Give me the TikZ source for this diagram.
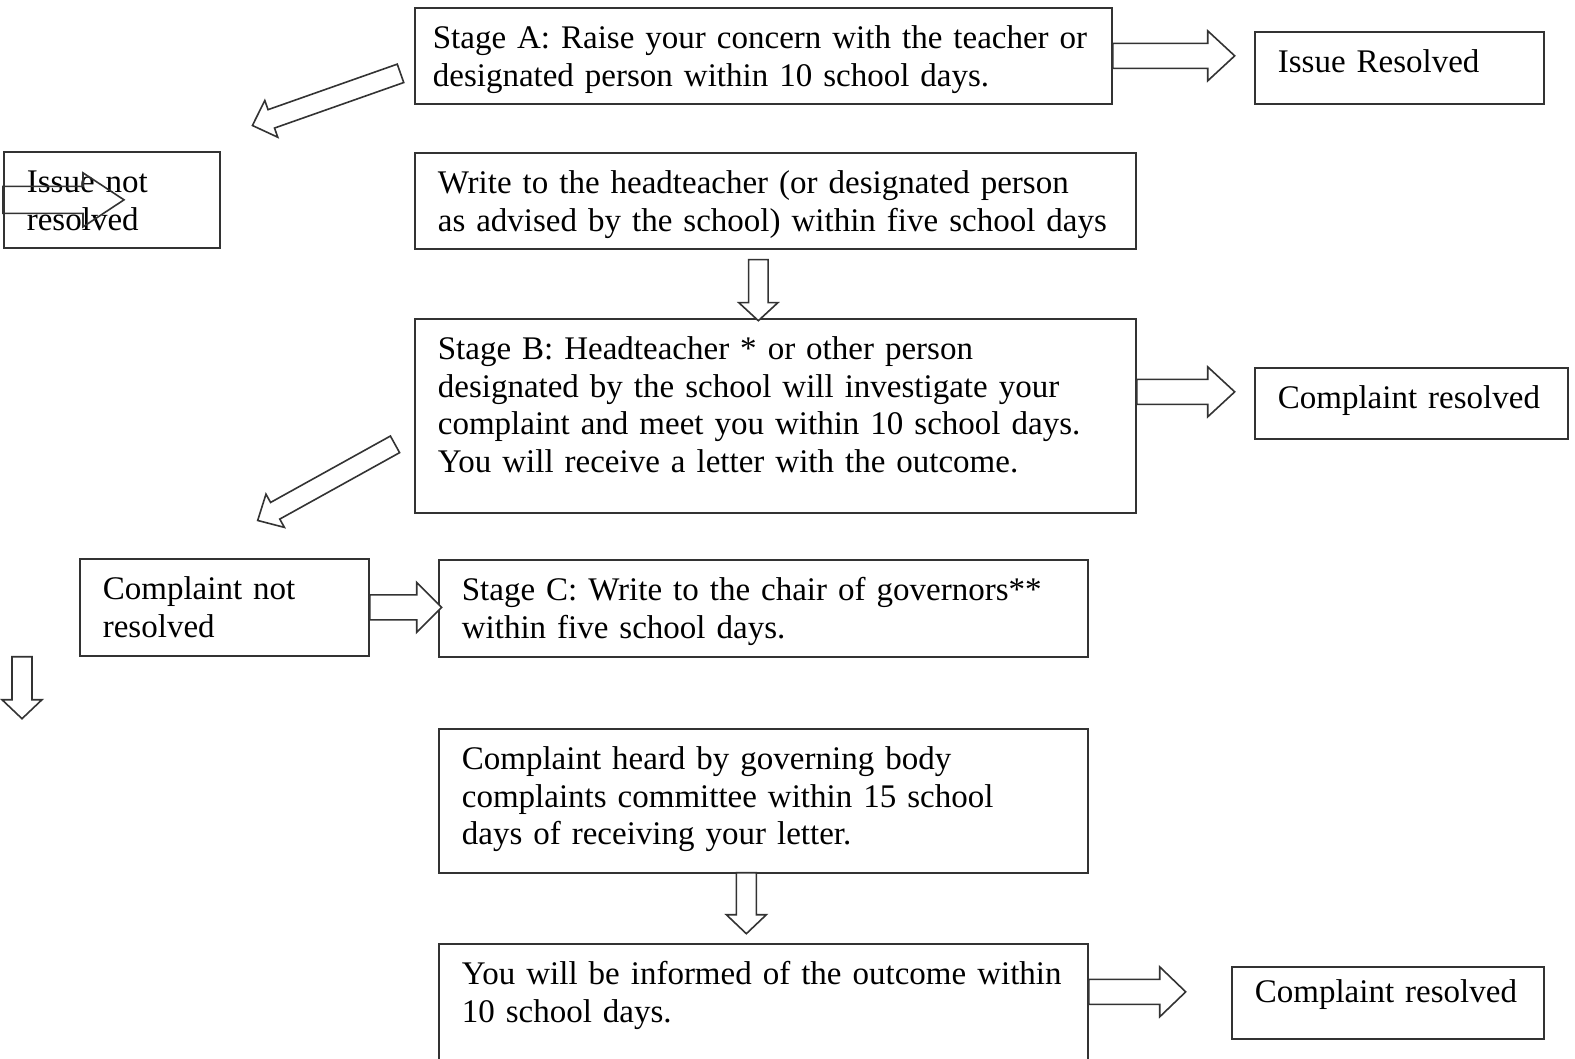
\documentclass[tikz,border=0pt]{standalone}
\usepackage{fontspec}
\setmainfont{Liberation Serif}
\usetikzlibrary{calc}

\tikzset{
  box/.style={draw=black!80, line width=1.7pt, anchor=north west, align=left,
    inner xsep=23pt, inner ysep=0pt, text height=41pt},
  fatarrow/.style={draw=black!80, line width=1.6pt, fill=white, line join=miter}
}

% hollow block arrow: [options] tail, angle, length, head half width, head length
\newcommand{\blockarrow}[6][]{%
  \draw[fatarrow, #1, shift={(#2)}, rotate=#3]
    (0,-#5/2) -- (#4-#6,-#5/2) -- (#4-#6,-#5) -- (#4,0)
    -- (#4-#6,#5) -- (#4-#6,#5/2) -- (0,#5/2) -- cycle;}

\begin{document}
\begin{tikzpicture}[x=1pt, y=-1pt, font=\fontsize{33}{37.5}\selectfont]

\useasboundingbox (0,0) rectangle (1575,1059);
\fill[white] (0,0) rectangle (1575,1059);

%Stage A
\node[box, inner xsep=18pt, text width=661pt, text depth=55pt] (stageA) at (414,7)
  {Stage A: Raise your concern with the teacher or\\designated person within 10 school days.};
\node[box, text width=243pt, text depth=31pt] (resolvedA) at (1254,31) {Issue Resolved};
\node[box, text width=170pt, text depth=55pt] (notResolvedA) at (3,151) {Issue not\\resolved};
\node[box, text width=675pt, text depth=55pt] (headteacher) at (414,152)
  {Write to the headteacher (or designated person\\as advised by the school) within five school days};

%Stage B
\node[box, text width=675pt, text depth=153pt] (stageB) at (414,318)
  {Stage B: Headteacher * or other person\\designated by the school will investigate your\\complaint and meet you within 10 school days.\\You will receive a letter with the outcome.};
\node[box, text width=267pt, text depth=30pt] (resolvedB) at (1254,367) {Complaint resolved};
\node[box, text width=243pt, text depth=56pt] (notResolvedB) at (79,558) {Complaint not\\resolved};

%Stage C
\node[box, text width=603pt, text depth=56pt] (stageC) at (438,559)
  {Stage C: Write to the chair of governors**\\within five school days.};
\node[box, text width=603pt, text depth=103pt] (committee) at (438,728)
  {Complaint heard by governing body\\complaints committee within 15 school\\days of receiving your letter.};
\node[box, text width=603pt, text depth=81pt] (outcome) at (438,943)
  {You will be informed of the outcome within\\10 school days.};
\node[box, text width=266pt, text height=36pt, text depth=36pt] (resolvedC) at (1231,966) {Complaint resolved};

%Arrows
\blockarrow{stageA.east}{0}{122}{25}{27}
\blockarrow{$(stageA.west)+(-13.5,17.5)$}{-160.6}{157}{19.5}{20}
\blockarrow[fill=none]{notResolvedA.west}{0}{121}{27}{41}
\blockarrow{$(headteacher.south)+(-17,10)$}{-90}{61}{19.5}{18}
\blockarrow{$(stageB.east)+(0,-24)$}{0}{98}{25}{27}
\blockarrow{$(stageB.west)+(-19,28.5)$}{-151}{157}{19}{20}
\blockarrow{notResolvedB.east}{0}{72}{25}{25}
\blockarrow{$(notResolvedB.south west)+(-57,0)$}{-90}{62}{20}{19}
\blockarrow{$(committee.south)+(-17,-1)$}{-90}{61}{20}{19}
\blockarrow{$(outcome.east)+(0,-13)$}{0}{97}{25}{26}

\end{tikzpicture}
\end{document}
